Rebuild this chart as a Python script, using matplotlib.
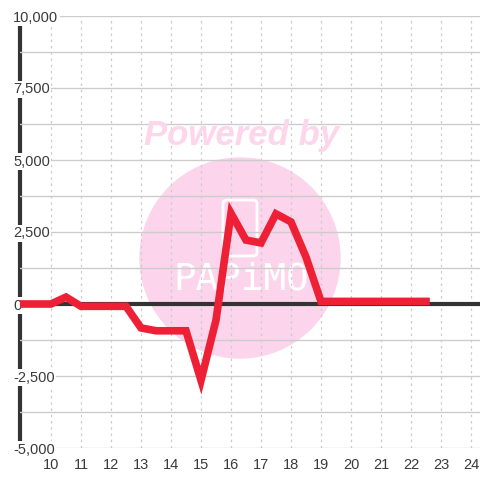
import matplotlib
matplotlib.use("Agg")
from matplotlib import pyplot as plt
from matplotlib.patches import Circle, FancyBboxPatch

hours = [9, 9.5, 10, 10.5, 11, 11.5, 12, 12.5, 13, 13.5, 14, 14.5, 15, 15.5,
         16, 16.5, 17, 17.5, 18, 18.5, 19, 19.5, 20, 20.5, 21, 21.5, 22, 22.5]
values = [0, 0, 0, 240, -80, -80, -80, -80, -830, -930, -930, -930, -2650, -560,
          3150, 2220, 2120, 3130, 2850, 1630, 90, 90, 90, 90, 90, 90, 90, 90]
x_ticks = list(range(10, 25))
y_ticks = [-5000, -2500, 0, 2500, 5000, 7500, 10000]
y_minor = [-3750, -1250, 1250, 3750, 6250, 8750]

plt.rcParams['font.family'] = ['Liberation Sans', 'DejaVu Sans']
fig = plt.figure(figsize=(4.8, 4.8), dpi=100)
ax = fig.add_axes([20 / 480, 32 / 480, 460 / 480, 432 / 480])
ax.set_xlim(8.967, 24.3)
ax.set_ylim(-5000, 10000)

# watermark
ax.add_patch(Circle((2.40, 2.22), 1.0, transform=fig.dpi_scale_trans,
                    color='#fcd5ec', zorder=0.2, clip_on=False))
fig.text(2.42 / 4.8, 3.44 / 4.8, 'Powered by', fontsize=25, fontweight='bold',
         fontstyle='italic', color='#fdd6ec', ha='center', va='center', zorder=0.3)
ax.text(2.41, 2.0, 'PAPiMO', transform=fig.dpi_scale_trans, fontsize=27,
        family='DejaVu Sans Mono', color='white', ha='center', va='center', zorder=0.3)
ax.add_patch(FancyBboxPatch((2.24, 2.25), 0.32, 0.54, boxstyle='round,pad=0.01,rounding_size=0.04',
                            transform=fig.dpi_scale_trans, fill=False, ec='white', lw=2,
                            zorder=0.3, clip_on=False))

ax.set_xticks(x_ticks)
ax.set_yticks(y_ticks)
ax.set_yticks(y_minor, minor=True)
ax.set_yticklabels(['{:,}'.format(v) for v in y_ticks])
ax.grid(axis='y', which='both', color='#cccccc', lw=1)
ax.grid(axis='x', color='#cccccc', lw=0.9, ls=(0, (2, 3)))
ax.tick_params(axis='both', which='both', length=0, labelsize=10.5, labelcolor='#3a3a3a')
ax.tick_params(axis='x', pad=7)
ax.tick_params(axis='y', pad=5)
for lbl in ax.get_yticklabels():
    lbl.set_horizontalalignment('left')
    lbl.set_bbox(dict(facecolor='white', edgecolor='none', pad=1))
ax.yaxis.set_zorder(3)

for s in ['top', 'right', 'bottom']:
    ax.spines[s].set_visible(False)
ax.spines['left'].set_linewidth(3)
ax.spines['left'].set_color('#333333')

ax.axhline(0, color='#333333', lw=3, zorder=3.5)
ax.plot(hours, values, color='#ee2035', lw=5.5, zorder=4, solid_joinstyle='miter')

fig.savefig('out.png')
